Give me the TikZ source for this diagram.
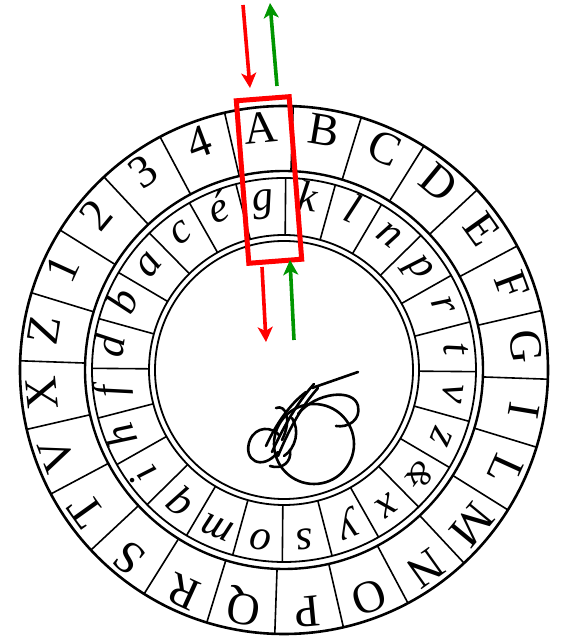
\documentclass[tikz,border=0pt]{standalone}
\usepackage{fontspec}
\setmainfont{Liberation Serif}
\usetikzlibrary{arrows.meta}
\definecolor{boxred}{RGB}{255,0,0}
\definecolor{arrgreen}{RGB}{0,150,0}
\newcommand{\ampsmall}{{\fontsize{34}{34}\selectfont\&}}
\begin{document}
\begin{tikzpicture}[x=1pt,y=1pt,
  outerletter/.style={font=\fontsize{46}{46}\selectfont, inner sep=0pt, text height=0.66em, text depth=0pt},
  innerletter/.style={font=\fontsize{43}{43}\selectfont\itshape, inner sep=0pt, text height=0.5em, text depth=0.04em},
  ringline/.style={line width=1.8pt, black},
  divline/.style={line width=1.6pt, black},
  scrib/.style={line width=2.6pt, black, line cap=round, line join=round},
  redarrow/.style={line width=3.6pt, boxred, -{Stealth[length=15pt,width=15pt,inset=4pt]}},
  greenarrow/.style={line width=3.6pt, arrgreen, -{Stealth[length=15pt,width=15pt,inset=4pt]}},
  selbox/.style={draw=boxred, line width=5pt, minimum width=53pt, minimum height=163pt, inner sep=0pt}]
\useasboundingbox (0,0) rectangle (560,637);
\fill[white] (0,0) rectangle (560,637);
% ---------------- disk ----------------
\begin{scope}[shift={(284,267)}]
  \draw[line width=2.6pt] (0,0) circle (264);
  \draw[line width=2.4pt] (0,0) circle (199);
  \draw[ringline] (0,0) circle (192);
  \draw[ringline] (0,0) circle (135);
  \draw[ringline] (0,0) circle (129);
  \foreach \i in {0,...,23} {
    \pgfmathsetmacro\ao{103-15*\i}
    \pgfmathsetmacro\ai{104.5-15*\i}
    \draw[divline] (\ao:199) -- (\ao:264);
    \draw[divline] (\ai:135) -- (\ai:192);
  }
  \foreach \l [count=\i from 0] in {A,B,C,D,E,F,G,I,L,M,N,O,P,Q,R,S,T,V,X,Z,1,2,3,4} {
    \pgfmathsetmacro\ang{95.5-15*\i}
    \node[outerletter, rotate=\ang-90] (out\i) at (\ang:231.5) {\l};
  }
  \foreach \l [count=\i from 0] in {g,k,l,n,p,r,t,v,z,\ampsmall,x,y,s,o,m,q,i,h,f,d,b,a,c,é} {
    \pgfmathsetmacro\ang{97-15*\i}
    \node[innerletter, rotate=\ang-90] (in\i) at (\ang:163.5) {\l};
  }
\end{scope}
% ---------------- overlay (image pixel coordinates) ----------------
\begin{scope}[shift={(0,637)}, yscale=-1]
  % scribble in the centre
  \draw[scrib] (314,444) circle (40);
  \draw[scrib] (278,452) .. controls (262,472) and (242,460) .. (250,440)
               .. controls (256,426) and (272,426) .. (280,436);
  \draw[scrib] (298,414) .. controls (316,392) and (354,388) .. (358,406)
               .. controls (361,420) and (348,428) .. (336,426);
  \draw[scrib] (312,388) -- (358,372);
  \draw[scrib] (272,452) .. controls (282,430) and (296,404) .. (314,384);
  \draw[scrib] (278,456) .. controls (288,432) and (300,408) .. (318,388);
  \draw[scrib] (266,446) .. controls (276,424) and (290,404) .. (306,392);
  \draw[scrib] (284,456) .. controls (296,448) and (300,430) .. (292,418);
  \draw[scrib] (276,408) .. controls (286,404) and (292,420) .. (282,440);
  \draw[scrib] (270,466) .. controls (282,470) and (292,462) .. (290,450);
  % selection box
  \node[selbox, rotate=4.4] (selbox) at (269,180) {};
  % arrows
  \coordinate (rt1) at (243,5);
  \coordinate (rt2) at (250,88);
  \coordinate (gt1) at (277,86);
  \coordinate (gt2) at (270,3);
  \coordinate (rb1) at (262,267);
  \coordinate (rb2) at (266,342);
  \coordinate (gb1) at (294,340);
  \coordinate (gb2) at (290,260);
  \draw[redarrow] (rt1) -- (rt2);
  \draw[greenarrow] (gt1) -- (gt2);
  \draw[redarrow] (rb1) -- (rb2);
  \draw[greenarrow] (gb1) -- (gb2);
\end{scope}
\end{tikzpicture}
\end{document}
